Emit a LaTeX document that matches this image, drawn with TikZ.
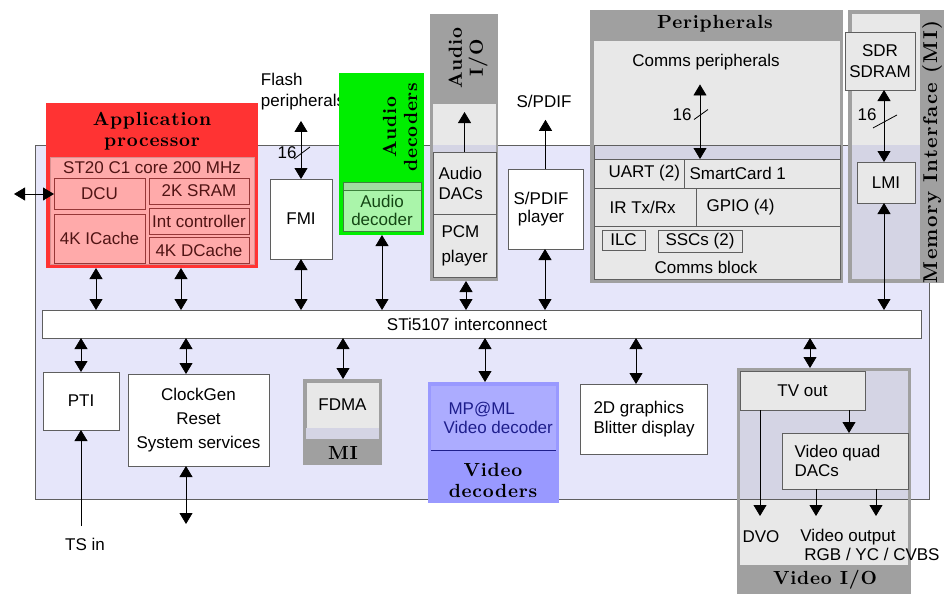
\documentclass[tikz,border=0pt]{standalone}
\usepackage{fontspec}
\setsansfont{Liberation Sans}
\newfontfamily\ttlfont{lmroman10}[Extension=.otf, UprightFont=*-regular, BoldFont=*-bold, LetterSpace=4]
\usetikzlibrary{arrows.meta}

\definecolor{chipbg}{RGB}{230,230,250}
\definecolor{edge}{RGB}{95,95,95}
\definecolor{hostred}{RGB}{255,51,51}
\definecolor{corepink}{RGB}{255,170,170}
\definecolor{coreline}{RGB}{150,55,55}
\definecolor{coretext}{RGB}{80,20,20}
\definecolor{adecgreen}{RGB}{0,238,0}
\definecolor{adeclight}{RGB}{170,245,170}
\definecolor{adecstrip}{RGB}{160,220,160}
\definecolor{adecline}{RGB}{60,130,60}
\definecolor{adectext}{RGB}{20,70,20}
\definecolor{grpgray}{RGB}{160,160,160}
\definecolor{paleg}{RGB}{232,232,232}
\definecolor{mixg}{RGB}{212,212,228}
\definecolor{vdecblue}{RGB}{153,153,255}
\definecolor{vdeclight}{RGB}{172,172,255}
\definecolor{vdectext}{RGB}{30,30,140}

\tikzset{
  blk/.style={draw=edge, line width=1pt, inner sep=0pt, outer sep=0pt, anchor=north west, align=center},
  wh/.style 2 args={minimum width=#1pt, minimum height=#2pt},
  grp/.style={blk, draw=none, fill=grpgray},
  pale/.style={blk, fill=paleg},
  ttl/.style={font=\ttlfont\bfseries\fontsize{19}{21}\selectfont, align=center},
  link/.style={draw=black, line width=0.8pt},
}

\begin{document}
\begin{tikzpicture}[x=1pt, y=-1pt, >={Triangle[width=13pt,length=11pt]}, font=\sffamily\fontsize{17}{20}\selectfont]
\useasboundingbox (0,0) rectangle (944,594);

% chip and interconnect
\node[blk, fill=chipbg, wh={894}{354}] (chip) at (35,145) {};
\node[blk, fill=white, wh={879}{28}] (ic) at (42,310) {};
\node (ictxt) at (467,324) {STi5107 interconnect};

% application processor
\node[blk, draw=none, fill=hostred, wh={212}{165}] (app) at (46,103) {};
\node[ttl] (apptitle) at (152,131) {Application\\processor};
\node[blk, draw=corepink!85!black, fill=corepink, wh={204}{107}] (core) at (50,157) {};
\node[text=coretext] (coretxt) at (152,168) {ST20 C1 core 200 MHz};
\node[blk, draw=coreline, text=coretext, wh={91}{31}] (dcu) at (54,178) {DCU};
\node[blk, draw=coreline, text=coretext, wh={91}{49}] (icache) at (54,214) {4K ICache};
\node[blk, draw=coreline, text=coretext, wh={100}{26}] (sram) at (149,178) {2K SRAM};
\node[blk, draw=coreline, text=coretext, wh={100}{26}] (intc) at (149,208) {Int controller};
\node[blk, draw=coreline, text=coretext, wh={100}{26}] (dcache) at (149,237) {4K DCache};
\coordinate (extio) at (14,194);
\draw[link, <->] (extio) -- (extio -| dcu.west);

% flash
\node[align=left, font=\sffamily\fontsize{17}{21}\selectfont] (flash) at (303,92) {Flash\\peripherals};
\node[blk, fill=white, wh={62}{80}] (fmi) at (270,179) {FMI};
\draw[link, <->, shorten <=7pt] (fmi.north |- flash.south) -- coordinate[pos=0.6] (bus1) (fmi.north);
\draw[link] (bus1) +(-7,6) -- +(9,-6);
\node[anchor=east] (bw1) at ([xshift=-1pt]bus1) {16};

% audio decoders
\node[blk, draw=none, fill=adecgreen, wh={85}{162}] (adecgrp) at (339,73) {};
\node[ttl, rotate=90] (adecttl) at (400,127) {Audio\\decoders};
\node[blk, draw=adecline, fill=adecstrip, wh={78}{8}] (adecbar) at (343,182) {};
\node[blk, draw=adecline, fill=adeclight, text=adectext, wh={78}{41}, font=\sffamily\fontsize{17}{18}\selectfont] (adec) at (343,190) {Audio\\decoder};

% audio I/O
\node[grp, wh={68}{267}] (aio) at (430,14) {};
\node[ttl, rotate=90] (aiottl) at (468,58) {Audio\\I/O};
\node[pale, draw=none, wh={63}{41}] (aioin) at (433,104) {};
\node[blk, draw=none, fill=mixg, wh={63}{7}] (aiobar) at (433,145) {};
\node[pale, wh={63}{62}] (dacs) at (433,152) {};
\node[anchor=west, align=left] (dacstxt) at ([xshift=2pt]dacs.west) {Audio\\DACs};
\node[pale, wh={63}{63}] (pcm) at (433,214) {};
\node[anchor=west, align=left, font=\sffamily\fontsize{17}{25}\selectfont] (pcmtxt) at ([xshift=5pt]pcm.west) {PCM\\player};
\coordinate (dacout) at (464,112);
\draw[link, ->] (dacs.north) -- (dacs.north |- dacout);

% S/PDIF
\node (spdif) at (544,101) {S/PDIF};
\node[blk, fill=white, wh={75}{80}] (spdifp) at (508,169) {};
\node[align=center, font=\sffamily\fontsize{17}{18}\selectfont] (spdiftxt) at (541,209) {S/PDIF\\player};
\draw[link, ->, shorten >=9pt] (spdifp.north) -- (spdifp.north |- spdif.south);

% peripherals
\node[grp, wh={253}{273}] (per) at (590,10) {};
\node[ttl] (perttl) at (715,24) {Peripherals};
\node[pale, draw=none, wh={246}{104}] (perin) at (594,41) {};
\node[blk, fill=mixg, wh={246}{14}] (perbar) at (594,145) {};
\node (cp) at (706,62) {Comms peripherals};
\node[pale, wh={90}{29}] (uart) at (594,159) {};
\node[anchor=west] (uarttxt) at ([xshift=11pt]uart.west) {UART (2)};
\node[pale, wh={156}{29}] (smart) at (684,159) {};
\node[anchor=west] (smarttxt) at ([xshift=2pt]smart.west) {SmartCard 1};
\node[pale, wh={102}{38}] (irda) at (594,188) {};
\node[anchor=west] (irtxt) at ([xshift=12pt]irda.west) {IR Tx/Rx};
\node[pale, wh={144}{38}] (gpio) at (696,188) {};
\node[anchor=west] (gpiotxt) at ([xshift=7pt]gpio.west) {GPIO (4)};
\node[pale, wh={246}{53}] (comms) at (594,226) {};
\node[pale, wh={43}{20}] (ilc) at (602,230) {ILC};
\node[pale, wh={84}{22}] (ssc) at (658,230) {SSCs (2)};
\node (commstxt) at (706,267) {Comms block};
\coordinate (cpin) at (700,159);
\draw[link, <->, shorten <=11pt] (cpin |- cp.south) -- coordinate[pos=0.48] (bus2) (cpin);
\draw[link] (bus2) +(-6,5) -- +(8,-5);
\node[anchor=east] (bw2) at ([xshift=-5pt]bus2) {16};

% memory interface
\node[grp, wh={96}{273}] (mi) at (848,10) {};
\node[pale, draw=none, wh={68}{131}] (miup) at (852,14) {};
\node[blk, draw=none, fill=mixg, wh={68}{134}] (milow) at (852,145) {};
\node[ttl, rotate=90, font=\ttlfont\bfseries\fontsize{20}{22}\selectfont\addfontfeature{LetterSpace=7}] (mittl) at (932,152) {Memory Interface (MI)};
\node[pale, wh={70}{57}, font=\sffamily\fontsize{17}{21}\selectfont] (sdram) at (845,33) {SDR\\SDRAM};
\node[pale, wh={58}{41}] (lmi) at (857,162) {LMI};

% bus taps
\foreach \n/\x in {t1/96, t2/181, t3/301, t4/382, t5/466, t6/545, t7/884}
  \coordinate (\n) at (\x,310);
\foreach \n/\x in {b1/81, b2/186, b3/343, b4/485, b5/636, b6/810}
  \coordinate (\n) at (\x,338);

\draw[link, <->] (t7 |- sdram.south) -- coordinate[pos=0.43] (bus3) (t7 |- lmi.north);
\draw[link] (bus3) +(-11,7) -- +(13,-6);
\node[anchor=east] (bw3) at ([xshift=-4pt,yshift=6pt]bus3) {16};

\foreach \t/\n in {t1/app, t2/app, t3/fmi, t4/adecgrp, t5/aio, t6/spdifp, t7/lmi}
  \draw[link, <->] (\t |- \n.south) -- (\t);

% lower blocks
\node[blk, fill=white, wh={76}{58}] (pti) at (43,372) {PTI};
\node (tsin) at (85,544) {TS in};
\draw[link, ->, shorten <=8pt] (pti.south |- tsin.north) -- (pti.south);

\node[blk, fill=white, wh={141}{92}, font=\sffamily\fontsize{17}{24}\selectfont] (clk) at (128,374) {ClockGen\\Reset\\System services};
\coordinate (clkio) at (186,524);
\draw[link, <->] (clkio |- clk.south) -- (clkio);

\node[grp, wh={79}{86}] (fdmagrp) at (303,379) {};
\node[pale, draw=edge!60, wh={73}{46}] (fdma) at (306,382) {FDMA};
\node[blk, draw=none, fill=mixg, wh={73}{11}] (fdmabar) at (306,428) {};
\node[ttl] (fdmattl) at (343,453) {MI};

\node[blk, draw=none, fill=vdecblue, wh={131}{121}] (vdecgrp) at (428,382) {};
\node[blk, draw=none, fill=vdeclight, wh={125}{64}] (vdec) at (431,386) {};
\draw[vdectext, line width=1pt] (vdec.south west) -- (vdec.south east);
\node[anchor=west, align=left, text=vdectext, font=\sffamily\fontsize{17}{19}\selectfont] (vdectxt) at ([xshift=9pt]vdec.west) {\hspace*{5pt}MP@ML\\Video decoder};
\node[ttl] (vdecttl) at (493,480) {Video\\decoders};

\node[blk, fill=white, wh={127}{70}] (gfx) at (580,384) {};
\node[anchor=west, align=left] (gfxtxt) at ([xshift=10pt]gfx.west) {2D graphics\\Blitter display};

% video I/O
\node[grp, wh={174}{226}] (vio) at (737,368) {};
\node[blk, draw=none, fill=mixg, wh={168}{128}] (vioup) at (740,371) {};
\node[blk, draw=none, fill=paleg, wh={168}{66}] (violow) at (740,499) {};
\draw[edge, line width=1pt] (violow.north west) -- (violow.north east);
\node[ttl] (viottl) at (825,580) {Video I/O};
\node[pale, wh={125}{39}] (tvout) at (740,371) {TV out};
\node[pale, wh={126}{56}] (vdacs) at (782,433) {};
\node[anchor=west, align=left, font=\sffamily\fontsize{17}{19}\selectfont] (vdacstxt) at ([xshift=9pt]vdacs.west) {Video quad\\DACs};
\node (dvo) at (761,537) {DVO};
\node (vout) at (848,537) {Video output};
\node (rgb) at (872,554) {RGB / YC / CVBS};
\coordinate (tvdac) at (849,433);
\coordinate (dvoend) at (760,516);
\coordinate (vout1) at (816,516);
\coordinate (vout2) at (876,516);
\draw[link, ->] (tvdac |- tvout.south) -- (tvdac);
\draw[link, ->] (dvoend |- tvout.south) -- (dvoend);
\draw[link, ->] (vout1 |- vdacs.south) -- (vout1);
\draw[link, ->] (vout2 |- vdacs.south) -- (vout2);

\foreach \b/\n in {b1/pti, b2/clk, b3/fdmagrp, b4/vdecgrp, b5/gfx, b6/vio}
  \draw[link, <->] (\b) -- (\b |- \n.north);
\end{tikzpicture}
\end{document}
